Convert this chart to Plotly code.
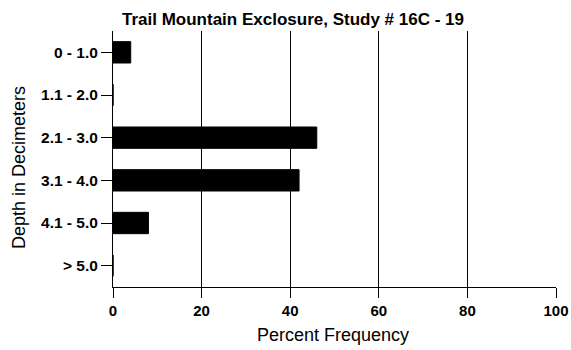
import plotly.graph_objects as go

categories = ["0 - 1.0", "1.1 - 2.0", "2.1 - 3.0", "3.1 - 4.0", "4.1 - 5.0", "> 5.0"]
values = [4, 0, 46, 42, 8, 0]
x_ticks = [0, 20, 40, 60, 80, 100]

W, H = 571, 350
ml, mr, mt, mb = 113, 15, 31, 63
pw, ph = W - ml - mr, H - mt - mb

fig = go.Figure()
fig.add_trace(go.Bar(
    x=values, y=categories, orientation="h",
    marker=dict(color="black", line=dict(color="black", width=1)),
    width=0.5,
))

FONT = "Liberation Sans, Arial, sans-serif"

fig.update_layout(
    width=W, height=H,
    margin=dict(l=ml, r=mr, t=mt, b=mb, autoexpand=False),
    paper_bgcolor="white", plot_bgcolor="white",
    showlegend=False,
    font=dict(family=FONT, color="black"),
    xaxis=dict(
        range=[0, 100], tickvals=x_ticks, ticktext=[f"<b>{v}</b>" for v in x_ticks],
        showgrid=True, gridcolor="black", gridwidth=1,
        showline=True, linecolor="black", linewidth=1,
        ticks="outside", ticklen=10, tickcolor="black", tickwidth=1,
        tickfont=dict(size=15, color="black"),
        zeroline=False, automargin=False,
    ),
    yaxis=dict(
        type="category", categoryorder="array", categoryarray=categories,
        range=[5.5, -0.5],
        tickvals=categories, ticktext=[f"<b>{c}</b>" for c in categories],
        showgrid=False, showline=True, linecolor="black", linewidth=1,
        ticks="outside", ticklen=11, tickcolor="black", tickwidth=1,
        tickfont=dict(size=15.5, color="black"),
        automargin=False,
    ),
    annotations=[
        dict(text="<b>Trail Mountain Exclosure, Study # 16C - 19</b>",
             xref="paper", yref="paper",
             x=(293 - ml) / pw, y=1 + (mt - 19) / ph,
             xanchor="center", yanchor="middle", showarrow=False,
             font=dict(size=17, color="black", family=FONT)),
        dict(text="Percent Frequency",
             xref="paper", yref="paper",
             x=(333 - ml) / pw, y=-(335 - (H - mb)) / ph,
             xanchor="center", yanchor="middle", showarrow=False,
             font=dict(size=18, color="black", family=FONT)),
        dict(text="Depth in Decimeters",
             xref="paper", yref="paper", textangle=-90,
             x=-(ml - 19) / pw, y=1 - (168 - mt) / ph,
             xanchor="center", yanchor="middle", showarrow=False,
             font=dict(size=18, color="black", family=FONT)),
    ],
)

fig.write_html("out.html", config={"displayModeBar": False},
               post_script="document.body.style.margin='0';document.body.style.overflow='hidden';")
